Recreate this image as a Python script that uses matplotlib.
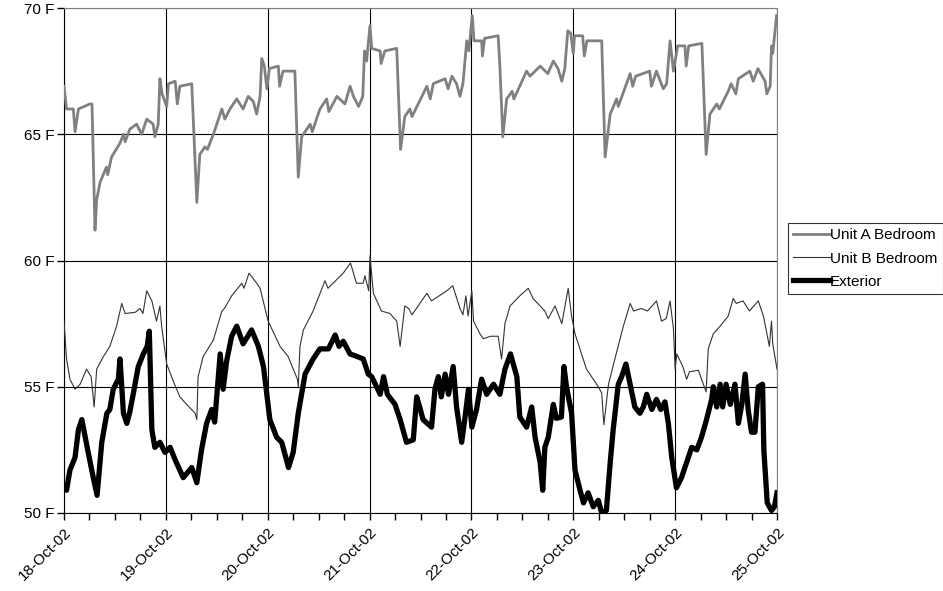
import numpy as np
import pandas as pd
import matplotlib
matplotlib.use("Agg")
import matplotlib.pyplot as plt
import matplotlib.dates as mdates

# hours since 18-Oct-02 00:00, temperatures in F
unit_a_hours = [0, 0.6, 2.2, 2.6, 3.4, 6.1, 6.6, 7.3, 7.7, 8.5, 10, 10.3, 11.2, 13.2, 14, 14.4,
                15.5, 17.1, 18.3, 19.5, 21, 21.4, 22.2, 22.6, 23.1, 24.2, 24.6, 26.2, 26.7, 27.3,
                30.1, 31.3, 32, 33.2, 33.8, 35.2, 37.2, 37.9, 39.1, 40.7, 42.2, 43.4, 44.6, 45.4,
                46.2, 46.6, 47.2, 47.8, 48.4, 50.5, 50.8, 51.6, 54.4, 55.2, 56, 58, 58.5, 60.3,
                61.9, 62.4, 64.3, 66.2, 67.4, 68.2, 69.4, 70.4, 70.8, 71.3, 72.1, 72.5, 74.5, 74.7,
                75.6, 78.4, 79.3, 80.3, 81.5, 82, 85.5, 86.3, 87, 89.8, 90.5, 91.4, 92.5, 93.3,
                94, 94.9, 95.4, 96.2, 96.6, 98.4, 98.6, 99.1, 102.3, 102.7, 103.4, 104.3, 105.6,
                106, 109, 109.8, 112.2, 114, 115.3, 116.4, 117.3, 118, 118.7, 119.4, 120, 120.3,
                122.2, 122.6, 123.2, 126.7, 127.5, 128.7, 130.2, 130.6, 133.4, 134, 134.7, 138,
                138.4, 139.6, 141.2, 142, 142.8, 143.6, 144.6, 146.3, 146.6, 147.2, 150.3, 151.3,
                152.2, 153.8, 154.4, 156.5, 157.2, 158.3, 158.9, 161.6, 162.4, 163.5, 165.2,
                165.6, 166.4, 166.7, 167, 167.9]
unit_a_temp = [66.9, 66.0, 66.0, 65.1, 66.0, 66.2, 66.2, 61.2, 62.4, 63.1, 63.7, 63.4, 64.1, 64.65,
               65.0, 64.7, 65.2, 65.4, 65.0, 65.6, 65.4, 64.9, 65.4, 67.2, 66.6, 66.1, 67.0, 67.1,
               66.2, 66.9, 67.0, 62.3, 64.2, 64.5, 64.4, 65.0, 66.0, 65.6, 66.0, 66.4, 66.0, 66.5,
               66.3, 65.8, 66.5, 68.0, 67.7, 66.8, 67.6, 67.7, 66.9, 67.5, 67.5, 63.3, 64.9, 65.4,
               65.1, 66.0, 66.4, 65.9, 66.5, 66.2, 66.9, 66.5, 66.1, 66.5, 68.3, 67.9, 69.3, 68.4,
               68.3, 67.8, 68.3, 68.4, 64.4, 65.7, 66.0, 65.7, 66.9, 66.4, 67.0, 67.2, 66.8, 67.3,
               67.0, 66.5, 67.0, 68.7, 68.3, 69.7, 68.7, 68.7, 68.1, 68.8, 68.9, 67.7, 64.9, 66.4,
               66.7, 66.4, 67.5, 67.3, 67.7, 67.4, 67.9, 67.6, 67.1, 67.6, 69.1, 69.0, 68.2, 68.9,
               68.9, 68.1, 68.7, 68.7, 64.1, 65.8, 66.4, 66.1, 67.4, 66.9, 67.3, 67.5, 66.9, 67.5,
               66.8, 67.0, 68.7, 67.5, 68.5, 68.5, 67.7, 68.5, 68.6, 64.2, 65.8, 66.2, 66.0, 66.7,
               67.0, 66.6, 67.2, 67.5, 67.1, 67.6, 67.1, 66.6, 66.9, 68.5, 68.2, 69.7]

unit_b_hours = [0, 0.6, 1.4, 2.6, 3.8, 5.3, 6.4, 7.1, 7.7, 9.3, 10.8, 12.4, 13.6, 14.4, 16.8, 17.9,
                18.6, 19.5, 20.7, 21.8, 22.6, 23, 24.2, 25.8, 27.3, 28.9, 30.9, 31.3, 31.6, 32.8,
                35.2, 37.2, 37.8, 39.5, 41.9, 42.4, 43.6, 45.4, 46.2, 48.1, 50.9, 52.8, 55, 55.2,
                55.6, 56.4, 58.7, 61.5, 62.2, 65.8, 67.5, 68.9, 70.5, 70.9, 71.8, 72.1, 72.9, 74.8,
                76.8, 78.4, 79.2, 80.3, 81.2, 82, 85.5, 86.6, 90.2, 91.6, 93.3, 94, 94.7, 95.2,
                96.1, 96.5, 98, 98.8, 100.5, 102.3, 103.1, 103.9, 105.1, 107.4, 109.4, 110.5,
                113.3, 114.1, 115.7, 117.3, 118.8, 119.6, 120.4, 123.1, 125.9, 126.7, 127.2, 128.3,
                129.8, 131.8, 133.4, 134.2, 136, 137.5, 139.6, 140.8, 141.9, 142.8, 143.6, 144,
                144.4, 145.8, 146.7, 147.4, 149.5, 150, 151.3, 151.8, 153, 154.6, 156.5, 157.7,
                158.4, 160, 161.5, 163.6, 164.8, 166.2, 166.7, 167, 168]
unit_b_temp = [57.6, 56.1, 55.3, 54.9, 55.1, 55.7, 55.4, 54.2, 55.7, 56.2, 56.6, 57.4, 58.3, 57.9,
               57.95, 58.1, 57.9, 58.8, 58.4, 57.6, 58.2, 57.4, 55.9, 55.2, 54.6, 54.3, 53.95,
               53.7, 55.4, 56.2, 56.85, 58.0, 58.1, 58.6, 59.1, 58.9, 59.5, 59.1, 58.9, 57.6, 56.6,
               56.2, 55.3, 55.0, 56.6, 57.25, 58.0, 59.2, 58.9, 59.5, 59.9, 59.1, 59.1, 59.4, 58.8,
               60.2, 58.7, 58.0, 57.9, 57.6, 56.6, 58.2, 58.1, 57.85, 58.7, 58.4, 58.8, 59.0, 58.1,
               57.85, 58.6, 57.8, 58.8, 57.6, 57.1, 56.9, 57.0, 57.0, 56.1, 57.5, 58.2, 58.6, 58.9,
               58.5, 58.0, 57.7, 58.2, 57.5, 58.9, 57.8, 57.1, 55.7, 55.0, 54.75, 53.5, 55.1, 56.1,
               57.4, 58.3, 58.0, 58.1, 58.0, 58.4, 57.6, 57.7, 58.4, 57.3, 55.7, 56.3, 55.8, 55.3,
               55.6, 55.65, 55.4, 54.8, 56.5, 57.1, 57.4, 57.8, 58.5, 58.3, 58.4, 58.0, 58.4, 57.8,
               56.6, 57.6, 56.7, 55.7]

exterior_hours = [0, 0.6, 1.4, 2.6, 3.4, 4.2, 5, 5.7, 6.9, 7.8, 8.9, 10.1, 10.8, 11.6, 12.8, 13.2,
                  14, 14.8, 15.5, 16.3, 17.5, 18.7, 19.6, 20.1, 20.7, 21.4, 22.6, 23.8, 25, 26.2,
                  28.1, 30.1, 31.3, 32.4, 33.6, 34.8, 35.5, 36.8, 37.5, 38.3, 39.5, 40.7, 42.2,
                  44.2, 45.8, 47, 48.5, 50.1, 51.3, 52.9, 54, 55.2, 56.8, 58.7, 60.3, 62.3, 63.9,
                  64.8, 65.8, 67.4, 69, 70.5, 71.7, 72.5, 74.5, 75.3, 76.2, 78, 79.2, 80.7, 82.3,
                  83.1, 83.8, 84.6, 86.6, 87.4, 88.2, 88.9, 89.8, 90.6, 91.7, 92.5, 93.7, 94.5,
                  95.3, 96.1, 97.2, 98.4, 99.6, 101.2, 102.7, 103.9, 105.2, 106.7, 107.4, 109,
                  110.2, 111, 112.2, 112.8, 113.3, 114.1, 115.3, 116, 117.2, 117.8, 118.4, 119.6,
                  120.4, 121.6, 122.4, 123.5, 124.7, 125.9, 126.7, 127.8, 128.7, 129.4, 130.6,
                  131.4, 132.4, 133.4, 134.5, 135.7, 136.5, 137.3, 138.5, 139.6, 140.6, 141.6,
                  142.4, 143.2, 144.3, 145.5, 146.7, 147.9, 149.1, 150.2, 151.4, 152.6, 153,
                  153.8, 154.6, 155.2, 156, 157, 158.1, 158.9, 159.7, 160.5, 161.2, 162, 162.8,
                  163.6, 164.6, 164.9, 165.7, 166.7, 167.4, 168]
exterior_temp = [51.0, 50.9, 51.7, 52.2, 53.3, 53.7, 53.0, 52.4, 51.4, 50.7, 52.8, 53.95, 54.1,
                 54.9, 55.3, 56.1, 53.95, 53.55, 54.0, 54.7, 55.8, 56.3, 56.6, 57.2, 53.3, 52.6,
                 52.8, 52.4, 52.6, 52.1, 51.4, 51.8, 51.2, 52.5, 53.55, 54.1, 53.6, 56.3, 54.9,
                 56.0, 57.0, 57.4, 56.7, 57.25, 56.6, 55.8, 53.7, 53.0, 52.8, 51.8, 52.4, 53.95,
                 55.5, 56.1, 56.5, 56.5, 57.05, 56.6, 56.8, 56.3, 56.2, 56.1, 55.5, 55.4, 54.7,
                 55.4, 54.7, 54.3, 53.7, 52.8, 52.9, 54.6, 54.2, 53.7, 53.4, 54.9, 55.4, 54.6,
                 55.5, 54.7, 55.8, 54.2, 52.8, 53.8, 54.9, 53.4, 54.1, 55.3, 54.7, 55.1, 54.7,
                 55.7, 56.3, 55.4, 53.8, 53.4, 54.2, 53.0, 52.0, 50.9, 52.6, 53.0, 54.3, 53.75,
                 53.8, 55.8, 55.0, 53.95, 51.7, 50.9, 50.4, 50.8, 50.25, 50.5, 50.0, 50.1, 52.0,
                 53.3, 55.1, 55.4, 55.9, 55.1, 54.2, 53.95, 54.2, 54.7, 54.1, 54.5, 54.1, 54.4,
                 53.55, 52.2, 51.0, 51.4, 52.0, 52.6, 52.5, 53.0, 53.7, 54.5, 55.0, 54.2, 55.1,
                 54.2, 55.1, 54.3, 55.1, 53.55, 54.3, 55.5, 54.1, 53.2, 53.2, 55.0, 55.1, 52.5,
                 50.4, 50.1, 50.25, 50.8]

series_labels = ["Unit A Bedroom", "Unit B Bedroom", "Exterior"]
y_ticks = [50, 55, 60, 65, 70]
y_tick_labels = ["50 F", "55 F", "60 F", "65 F", "70 F"]

start = pd.Timestamp("2002-10-18")


def to_dates(hours):
    return start + pd.to_timedelta(np.array(hours), unit="h")


def main():
    plt.rcParams["font.family"] = ["Liberation Sans", "DejaVu Sans"]
    fig = plt.figure(figsize=(9.43, 5.91), dpi=100)
    ax = fig.add_axes([64 / 943, 1 - 513 / 591, (777 - 64) / 943, (513 - 8) / 591])

    la, = ax.plot(to_dates(unit_a_hours), unit_a_temp, color="#808080", lw=2.0,
                  label=series_labels[0], zorder=3)
    lb, = ax.plot(to_dates(unit_b_hours), unit_b_temp, color="#333333", lw=0.8,
                  label=series_labels[1], zorder=3)
    le, = ax.plot(to_dates(exterior_hours), exterior_temp, color="black", lw=3.8,
                  label=series_labels[2], zorder=4, solid_joinstyle="round")

    ax.set_ylim(50, 70)
    ax.set_xlim(start, start + pd.Timedelta(days=7))
    ax.set_yticks(y_ticks)
    ax.set_yticklabels(y_tick_labels)

    ax.xaxis.set_major_locator(mdates.DayLocator())
    ax.xaxis.set_minor_locator(mdates.HourLocator(byhour=[6, 12, 18]))
    ax.xaxis.set_major_formatter(mdates.DateFormatter("%d-%b-%y"))
    for lab in ax.get_xticklabels():
        lab.set_rotation(45)
        lab.set_ha("right")
        lab.set_rotation_mode("anchor")

    ax.tick_params(axis="both", which="major", direction="out", length=5, width=1,
                   labelsize=11, color="black")
    ax.tick_params(axis="x", which="minor", direction="out", length=5, width=1)
    ax.tick_params(axis="y", pad=2)
    ax.tick_params(axis="x", pad=4)

    ax.grid(True, which="major", color="black", lw=0.8, zorder=1)
    ax.set_axisbelow(True)

    ax.spines["left"].set_color("black")
    ax.spines["bottom"].set_color("black")
    ax.spines["top"].set_color("#808080")
    ax.spines["right"].set_color("#808080")

    leg = fig.legend(handles=[la, lb, le], loc="upper left",
                     bbox_to_anchor=(788 / 943, 1 - 223 / 591), fontsize=11,
                     frameon=True, fancybox=False, borderpad=0.35, handlelength=2.4,
                     handletextpad=0.0, labelspacing=0.6, borderaxespad=0)
    leg.get_frame().set_edgecolor("black")
    leg.get_frame().set_linewidth(0.8)

    fig.savefig("out.png", dpi=100)
    plt.close()


if __name__ == "__main__":
    main()
